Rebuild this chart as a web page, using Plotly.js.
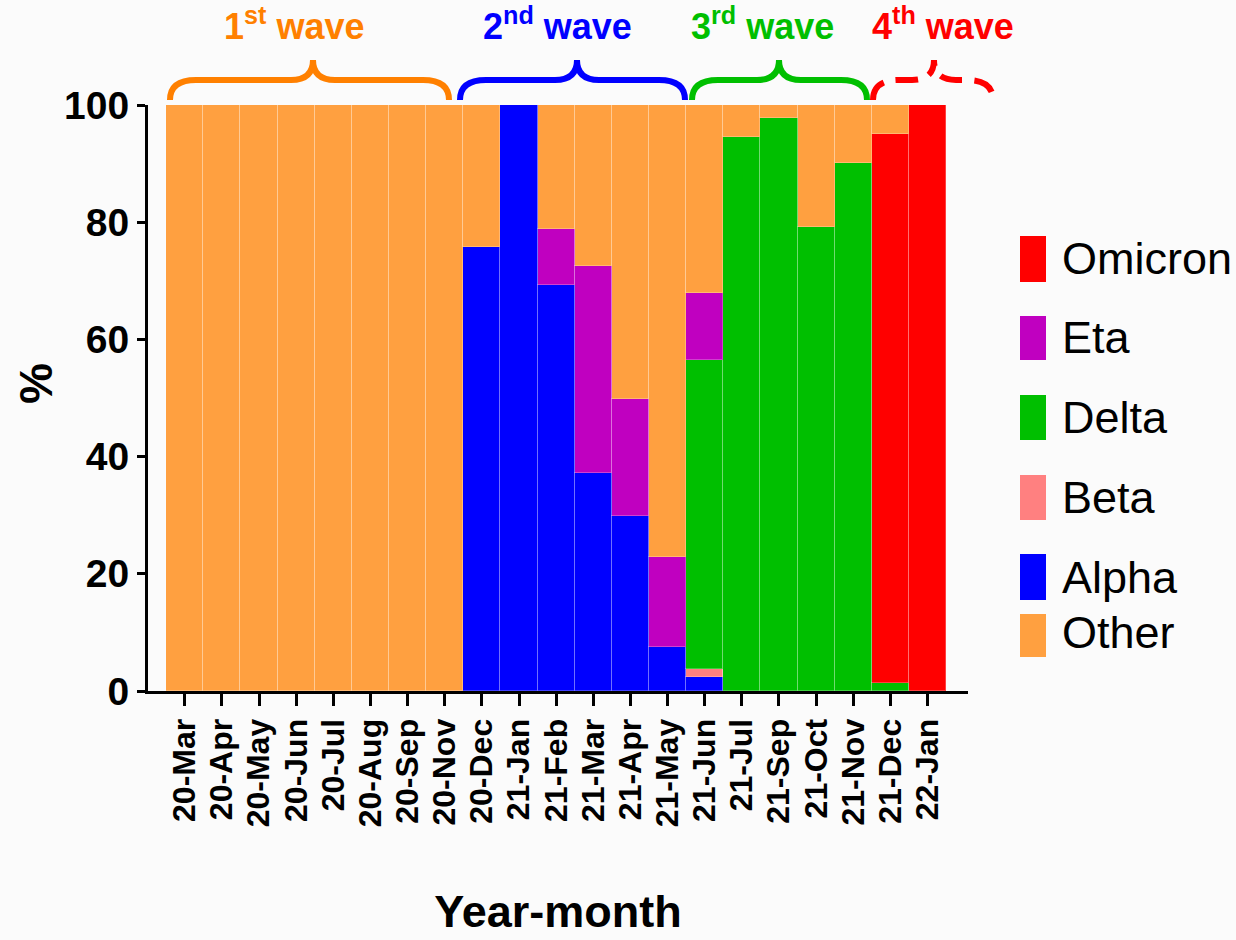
<!DOCTYPE html>
<html>
<head>
<meta charset="utf-8">
<script src="https://cdn.plot.ly/plotly-3.0.1.min.js"></script>
<style>
  html, body { margin: 0; padding: 0; background: #fbfbfb; }
  #chart { width: 1236px; height: 940px; }
</style>
</head>
<body>
<div id="chart"></div>
<script>
// ---------------- data ----------------
const categories = ["20-Mar","20-Apr","20-May","20-Jun","20-Jul","20-Aug","20-Sep","20-Nov",
  "20-Dec","21-Jan","21-Feb","21-Mar","21-Apr","21-May","21-Jun","21-Jul","21-Sep","21-Oct",
  "21-Nov","21-Dec","22-Jan"];

const alpha   = [0,0,0,0,0,0,0,0, 75.8,100,69.2,37.2,29.8,7.5,2.4, 0,0,0,0,0,0];
const beta    = [0,0,0,0,0,0,0,0, 0,0,0,0,0,0,1.3, 0,0,0,0,0,0];
const delta   = [0,0,0,0,0,0,0,0, 0,0,0,0,0,0,52.8, 94.6,97.7,79.2,90.1,1.3,0];
const eta     = [0,0,0,0,0,0,0,0, 0,0,9.6,35.4,20.1,15.4,11.5, 0,0,0,0,0,0];
const omicron = [0,0,0,0,0,0,0,0, 0,0,0,0,0,0,0, 0,0,0,0,93.8,100];
const other   = [100,100,100,100,100,100,100,100, 24.2,0,21.2,27.4,50.1,77.1,32.0, 5.4,2.3,20.8,9.9,4.9,0];

const seriesNames  = ["Alpha","Beta","Delta","Eta","Omicron","Other"];
const seriesValues = [alpha, beta, delta, eta, omicron, other];
const seriesColors = ["#0000ff","#ff8080","#00bf00","#c000c0","#ff0000","#ffa040"];

const legendOrder = ["Omicron","Eta","Delta","Beta","Alpha","Other"];

const waveLabels = ["1<sup>st</sup> wave","2<sup>nd</sup> wave","3<sup>rd</sup> wave","4<sup>th</sup> wave"];
const waveColors = ["#ff8000","#0000ff","#00bf00","#ff0000"];

const yTicks = [0,20,40,60,80,100];

// ---------------- geometry helpers (layout only) ----------------
const W = 1236, H = 940;
const mL = 148, mR = 268, mT = 105, mB = 249;
const pw = W - mL - mR, ph = H - mT - mB;
const px = x => (x - mL) / pw;
const py = y => (H - mB - y) / ph;

function bracePath(x0, x1, xm, yb, ym, yt) {
  const r = 26, t = 22;
  const P = (x, y) => px(x).toFixed(5) + "," + py(y).toFixed(5);
  return "M" + P(x0, yb) +
    " Q" + P(x0, ym) + " " + P(x0 + r, ym) +
    " L" + P(xm - t, ym) +
    " Q" + P(xm, ym) + " " + P(xm, yt) +
    " Q" + P(xm, ym) + " " + P(xm + t, ym) +
    " L" + P(x1 - r, ym) +
    " Q" + P(x1, ym) + " " + P(x1, yb);
}

// ---------------- traces ----------------
const traces = seriesNames.map((name, i) => ({
  type: "bar",
  name: name,
  x: categories,
  y: seriesValues[i],
  marker: { color: seriesColors[i], line: { width: 1, color: "rgba(255,255,255,0.25)" } },
  hoverinfo: "x+y+name",
  showlegend: false
}));

// ---------------- decorations ----------------
const braces = [
  { x0: 170, x1: 449, xm: 313 },
  { x0: 460, x1: 685, xm: 577 },
  { x0: 692, x1: 867, xm: 779 },
  { x0: 873, x1: 993, xm: 934 }
];
const waveTextX = [294.5, 557, 762, 943];

const shapes = [];
const annotations = [];

braces.forEach((b, i) => {
  shapes.push({
    type: "path", xref: "paper", yref: "paper",
    path: bracePath(b.x0, b.x1, b.xm, 100, 80, 60),
    line: { color: waveColors[i], width: 6, dash: i === 3 ? "22px,12px" : "solid" }
  });
  annotations.push({
    xref: "paper", yref: "paper", x: px(waveTextX[i]), y: py(49),
    xanchor: "center", yanchor: "bottom", showarrow: false,
    text: waveLabels[i],
    font: { family: "Liberation Sans, Arial, sans-serif", size: 36, weight: "bold", color: waveColors[i] }
  });
});

// custom legend
const legRectY = { Omicron: [236, 282], Eta: [316, 360], Delta: [395, 440], Beta: [475, 520], Alpha: [554, 600], Other: [614, 657] };
const legTextY = { Omicron: 258, Eta: 337, Delta: 417.5, Beta: 497.5, Alpha: 577.5, Other: 632.5 };
legendOrder.forEach(name => {
  const idx = seriesNames.indexOf(name);
  shapes.push({
    type: "rect", xref: "paper", yref: "paper",
    x0: px(1020), x1: px(1046), y0: py(legRectY[name][1]), y1: py(legRectY[name][0]),
    fillcolor: seriesColors[idx], line: { width: 0 }
  });
  annotations.push({
    xref: "paper", yref: "paper", x: px(1060), y: py(legTextY[name]),
    xanchor: "left", yanchor: "middle", showarrow: false,
    text: name,
    font: { family: "Liberation Sans, Arial, sans-serif", size: 45, color: "#000000" }
  });
});

// y-axis title placed precisely
annotations.push({
  xref: "paper", yref: "paper", x: px(36), y: py(383),
  xanchor: "center", yanchor: "middle", showarrow: false, textangle: -90,
  text: "%",
  font: { family: "Liberation Sans, Arial, sans-serif", size: 46, weight: "bold", color: "#000000" }
});

// ---------------- layout ----------------
const layout = {
  width: W, height: H,
  margin: { l: mL, r: mR, t: mT, b: mB, autoexpand: false },
  paper_bgcolor: "#fbfbfb",
  plot_bgcolor: "rgba(0,0,0,0)",
  barmode: "stack",
  bargap: 0,
  showlegend: false,
  font: { family: "Liberation Sans, Arial, sans-serif", color: "#000000" },
  xaxis: {
    type: "category",
    range: [-0.99, 21.09],
    tickmode: "array",
    tickvals: categories,
    ticktext: categories,
    showline: true, linewidth: 3, linecolor: "#000000",
    ticks: "outside", ticklen: 12, tickwidth: 3, tickcolor: "#000000",
    tickangle: -90,
    tickfont: { size: 32, weight: "bold" },
    showgrid: false, zeroline: false,
    automargin: false,
    title: { text: "Year-month", font: { size: 45, weight: "bold" }, standoff: 70 }
  },
  yaxis: {
    range: [0, 100],
    tickmode: "array",
    tickvals: yTicks,
    ticktext: yTicks.map(String),
    showline: true, linewidth: 3, linecolor: "#000000",
    ticks: "outside", ticklen: 8, tickwidth: 3, tickcolor: "#000000",
    tickfont: { size: 39, weight: "bold" },
    showgrid: false, zeroline: false,
    automargin: false
  },
  shapes: shapes,
  annotations: annotations
};

Plotly.newPlot("chart", traces, layout, { displayModeBar: false });
</script>
</body>
</html>
